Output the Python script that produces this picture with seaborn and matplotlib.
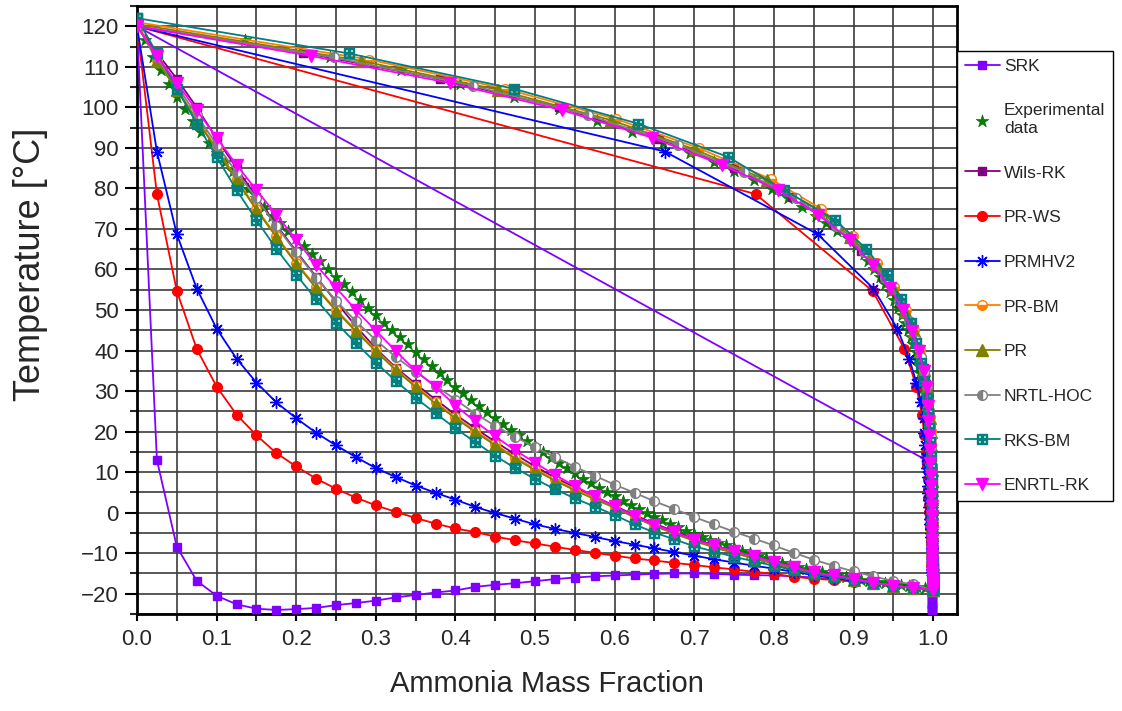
import pandas as pd
import numpy as np
import seaborn as sns
import matplotlib.pyplot as plt
from matplotlib.ticker import MultipleLocator

#* STEP 1: data

# liquid mass fraction grid of the models (bubble side)
mass_frac = [0.0, 0.025, 0.05, 0.075, 0.1, 0.125, 0.15, 0.175, 0.2, 0.225,
             0.25, 0.275, 0.3, 0.325, 0.35, 0.375, 0.4, 0.425, 0.45, 0.475,
             0.5, 0.525, 0.55, 0.575, 0.6, 0.625, 0.65, 0.675, 0.7, 0.725,
             0.75, 0.775, 0.8, 0.825, 0.85, 0.875, 0.9, 0.925, 0.95, 0.975, 1.0]

# SRK
srk_T = [120.0, 13.0, -8.4, -16.8, -20.5, -22.6, -23.7, -24.0, -23.8, -23.5,
         -22.8, -22.3, -21.7, -20.9, -20.3, -19.7, -19.2, -18.3, -17.8, -17.4,
         -16.9, -16.4, -16.0, -15.7, -15.5, -15.3, -15.1, -15.0, -15.0, -15.1,
         -15.3, -15.4, -15.5, -15.7, -16.0, -16.4, -16.9, -17.4, -17.9, -18.5, -19.1]
srk_y = [0.0, 0.991, 0.998, 0.998, 0.999, 0.999, 0.999, 0.999, 0.999, 0.999,
         0.999, 0.999, 0.999, 0.999, 0.999, 0.999, 0.999, 0.999, 0.999, 0.999,
         0.999, 0.999, 0.999, 0.999, 0.999, 0.999, 0.999, 0.999, 0.999, 0.999,
         0.999, 0.999, 0.999, 0.999, 0.999, 0.999, 0.999, 1.0, 1.0, 1.0, 1.0]

# Wils-RK
wils_T = [120.0, 113.5, 107.0, 100.0, 92.3, 85.0, 77.9, 71.0, 64.5, 58.2,
          52.0, 46.0, 40.5, 35.8, 31.8, 27.9, 24.2, 20.8, 17.5, 14.4,
          11.4, 8.7, 6.2, 3.9, 1.7, -0.6, -2.7, -4.6, -6.5, -8.1,
          -9.6, -11.0, -12.3, -13.5, -14.7, -15.6, -16.4, -17.3, -18.0, -18.6, -19.1]
wils_y = [0.0, 0.209, 0.380, 0.530, 0.656, 0.750, 0.823, 0.875, 0.910, 0.937,
          0.957, 0.972, 0.982, 0.988, 0.991, 0.994, 0.995, 0.996, 0.997, 0.997,
          0.997, 0.998, 0.998, 0.998, 0.998, 0.999, 0.999, 0.999, 0.999, 0.999,
          0.999, 0.999, 0.999, 1.0, 1.0, 1.0, 1.0, 1.0, 1.0, 1.0, 1.0]

# PR-WS
prws_T = [120.0, 78.6, 54.7, 40.4, 31.1, 24.2, 19.1, 14.7, 11.4, 8.4,
          5.9, 3.7, 1.8, 0.2, -1.3, -2.7, -3.9, -4.8, -5.9, -6.8,
          -7.6, -8.4, -9.2, -9.9, -10.6, -11.3, -11.8, -12.4, -12.9, -13.5,
          -14.0, -14.6, -15.1, -15.8, -16.3, -16.6, -17.0, -17.4, -17.9, -18.5, -19.1]
prws_y = [0.0, 0.777, 0.924, 0.964, 0.979, 0.986, 0.989, 0.991, 0.992, 0.993,
          0.994, 0.994, 0.995, 0.995, 0.996, 0.996, 0.996, 0.997, 0.997, 0.997,
          0.997, 0.998, 0.998, 0.998, 0.998, 0.998, 0.999, 0.999, 0.999, 0.999,
          0.999, 0.999, 0.999, 0.999, 1.0, 1.0, 1.0, 1.0, 1.0, 1.0, 1.0]

# PRMHV2
prmhv2_T = [120.0, 89.1, 68.7, 55.3, 45.4, 38.0, 32.1, 27.2, 23.3, 19.7,
            16.6, 13.7, 11.0, 8.8, 6.7, 4.9, 3.2, 1.4, -0.1, -1.5,
            -2.9, -4.0, -5.0, -6.0, -7.0, -7.9, -8.8, -9.7, -10.6, -11.5,
            -12.3, -13.1, -13.8, -14.6, -15.4, -16.1, -16.8, -17.4, -17.9, -18.5, -19.1]
prmhv2_y = [0.0, 0.663, 0.855, 0.925, 0.955, 0.970, 0.979, 0.985, 0.988, 0.989,
            0.990, 0.991, 0.992, 0.993, 0.994, 0.994, 0.995, 0.995, 0.996, 0.996,
            0.996, 0.997, 0.997, 0.997, 0.998, 0.998, 0.998, 0.998, 0.999, 0.999,
            0.999, 0.999, 0.999, 0.999, 1.0, 1.0, 1.0, 1.0, 1.0, 1.0, 1.0]

# PR-BM
prbm_T = [121.0, 111.8, 104.6, 97.1, 89.9, 82.3, 75.0, 68.3, 61.7, 55.7,
          50.1, 45.0, 40.1, 35.5, 31.3, 27.2, 23.6, 20.2, 16.9, 13.6,
          10.8, 8.2, 5.8, 3.6, 1.4, -1.0, -3.1, -5.0, -6.8, -8.4,
          -9.9, -11.2, -12.5, -13.7, -14.8, -15.7, -16.5, -17.3, -18.0, -18.6, -19.1]
prbm_y = [0.0, 0.291, 0.462, 0.602, 0.706, 0.796, 0.859, 0.899, 0.929, 0.951,
          0.966, 0.976, 0.984, 0.989, 0.992, 0.994, 0.996, 0.997, 0.997, 0.997,
          0.998, 0.998, 0.998, 0.998, 0.999, 0.999, 0.999, 0.999, 0.999, 0.999,
          0.999, 0.999, 1.0, 1.0, 1.0, 1.0, 1.0, 1.0, 1.0, 1.0, 1.0]

# PR
pr_T = [120.5, 111.5, 104.3, 96.8, 89.6, 82.0, 74.7, 68.0, 61.4, 55.4,
        49.8, 44.7, 39.8, 35.2, 31.0, 26.9, 23.3, 19.9, 16.6, 13.3,
        10.5, 7.9, 5.5, 3.3, 1.2, -1.2, -3.3, -5.2, -7.0, -8.6,
        -10.0, -11.3, -12.6, -13.8, -14.9, -15.7, -16.5, -17.3, -18.0, -18.6, -19.1]
pr_y = [0.0, 0.281, 0.454, 0.596, 0.701, 0.791, 0.856, 0.897, 0.928, 0.950,
        0.965, 0.976, 0.984, 0.989, 0.992, 0.994, 0.996, 0.997, 0.997, 0.997,
        0.998, 0.998, 0.998, 0.998, 0.999, 0.999, 0.999, 0.999, 0.999, 0.999,
        0.999, 0.999, 1.0, 1.0, 1.0, 1.0, 1.0, 1.0, 1.0, 1.0, 1.0]

# NRTL-HOC
nrtl_T = [120.0, 112.3, 105.3, 98.1, 90.8, 84.0, 77.6, 70.7, 64.2, 58.0,
          52.3, 47.2, 42.6, 38.4, 34.8, 31.3, 27.9, 24.4, 21.4, 18.7,
          16.1, 13.7, 11.3, 9.1, 6.9, 4.9, 2.8, 0.9, -1.1, -2.9,
          -4.7, -6.4, -8.1, -9.9, -11.6, -13.1, -14.5, -15.7, -16.9, -17.7, -19.1]
nrtl_y = [0.0, 0.247, 0.422, 0.566, 0.679, 0.763, 0.828, 0.878, 0.913, 0.939,
          0.957, 0.970, 0.978, 0.985, 0.989, 0.992, 0.994, 0.995, 0.996, 0.997,
          0.997, 0.997, 0.998, 0.998, 0.998, 0.998, 0.999, 0.999, 0.999, 0.999,
          0.999, 0.999, 0.999, 1.0, 1.0, 1.0, 1.0, 1.0, 1.0, 1.0, 1.0]

# RKS-BM
rksbm_T = [122.0, 113.3, 104.6, 96.0, 87.8, 79.6, 72.2, 65.1, 58.7, 52.6,
           46.9, 41.8, 37.0, 32.5, 28.3, 24.5, 20.8, 17.4, 14.0, 11.0,
           8.3, 5.8, 3.5, 1.5, -0.6, -2.9, -4.9, -6.6, -8.3, -9.6,
           -10.9, -12.0, -13.1, -14.2, -15.1, -15.9, -16.6, -17.4, -18.0, -18.6, -19.1]
rksbm_y = [0.0, 0.266, 0.473, 0.629, 0.742, 0.813, 0.877, 0.916, 0.942, 0.960,
           0.972, 0.979, 0.985, 0.989, 0.992, 0.994, 0.995, 0.996, 0.997, 0.997,
           0.998, 0.998, 0.998, 0.999, 0.999, 0.999, 0.999, 0.999, 0.999, 0.999,
           0.999, 1.0, 1.0, 1.0, 1.0, 1.0, 1.0, 1.0, 1.0, 1.0, 1.0]

# ENRTL-RK
enrtl_T = [120.0, 112.7, 106.0, 99.3, 92.5, 85.8, 79.6, 73.5, 67.3, 61.1,
           55.5, 50.0, 44.9, 39.9, 35.0, 31.0, 26.4, 22.5, 18.8, 15.4,
           12.3, 9.3, 6.6, 4.0, 1.6, -0.9, -3.0, -4.8, -6.7, -8.1,
           -9.5, -10.8, -12.2, -13.4, -14.7, -15.5, -16.3, -17.3, -18.0, -18.6, -19.1]
enrtl_y = [0.0, 0.218, 0.393, 0.534, 0.647, 0.735, 0.805, 0.856, 0.895, 0.924,
           0.946, 0.962, 0.973, 0.982, 0.988, 0.992, 0.993, 0.994, 0.995, 0.996,
           0.996, 0.997, 0.997, 0.997, 0.998, 0.998, 0.998, 0.998, 0.998, 0.999,
           0.999, 0.999, 0.999, 0.999, 0.999, 0.999, 1.0, 1.0, 1.0, 1.0, 1.0]

# experimental data (liquid and vapour side)
exp_x = [0.0, 0.01, 0.02, 0.03, 0.04, 0.05, 0.06, 0.07, 0.08, 0.09,
         0.10, 0.11, 0.12, 0.13, 0.14, 0.15, 0.16, 0.17, 0.18, 0.19,
         0.20, 0.21, 0.22, 0.23, 0.24, 0.25, 0.26, 0.27, 0.28, 0.29,
         0.30, 0.31, 0.32, 0.33, 0.34, 0.35, 0.36, 0.37, 0.38, 0.39,
         0.40, 0.41, 0.42, 0.43, 0.44, 0.45, 0.46, 0.47, 0.48, 0.49,
         0.50, 0.51, 0.52, 0.53, 0.54, 0.55, 0.56, 0.57, 0.58, 0.59,
         0.60, 0.61, 0.62, 0.63, 0.64, 0.65, 0.66, 0.67, 0.68, 0.69,
         0.70, 0.71, 0.72, 0.73, 0.74, 0.75, 0.76, 0.77, 0.78, 0.79,
         0.80, 0.81, 0.82, 0.83, 0.84, 0.85, 0.86, 0.87, 0.88, 0.89,
         0.90, 0.91, 0.92, 0.93, 0.94, 0.95, 0.96, 0.97, 0.98, 0.99, 1.0]
exp_T = [120.0, 116.5, 112.5, 109.1, 105.7, 102.6, 99.5, 96.6, 94.0, 91.2,
         88.8, 86.6, 84.3, 82.0, 79.8, 77.6, 75.4, 73.3, 71.4, 69.6,
         67.7, 65.8, 63.9, 62.0, 60.1, 58.2, 56.3, 54.4, 52.5, 50.6,
         48.8, 46.9, 45.1, 43.3, 41.5, 39.7, 37.9, 36.2, 34.5, 32.8,
         31.1, 29.5, 27.9, 26.3, 24.8, 23.3, 21.9, 20.5, 19.1, 17.7,
         16.4, 15.0, 13.6, 12.3, 11.0, 9.7, 8.4, 7.2, 6.0, 5.0,
         4.0, 3.0, 1.9, 0.9, -0.1, -1.0, -1.9, -2.8, -3.6, -4.4,
         -5.2, -6.0, -6.7, -7.4, -8.1, -8.8, -9.4, -10.0, -10.6, -11.2,
         -11.8, -12.3, -12.8, -13.3, -13.8, -14.3, -14.7, -15.1, -15.5, -15.9,
         -16.2, -16.5, -16.8, -17.1, -17.4, -17.7, -17.9, -18.2, -18.4, -18.6, -18.8]
exp_y = [0.0, 0.136, 0.243, 0.331, 0.406, 0.473, 0.530, 0.578, 0.622, 0.661,
         0.694, 0.725, 0.750, 0.775, 0.798, 0.818, 0.835, 0.853, 0.866, 0.879,
         0.893, 0.903, 0.913, 0.918, 0.926, 0.933, 0.940, 0.946, 0.951, 0.956,
         0.961, 0.965, 0.969, 0.972, 0.975, 0.978, 0.980, 0.982, 0.984, 0.986,
         0.988, 0.989, 0.990, 0.991, 0.992, 0.993, 0.994, 0.994, 0.995, 0.995,
         0.996, 0.996, 0.996, 0.996, 0.996, 0.997, 0.997, 0.997, 0.997, 0.997,
         0.997, 0.997, 0.998, 0.998, 0.998, 0.998, 0.998, 0.998, 0.998, 0.998,
         0.998, 0.999, 0.999, 0.999, 0.999, 0.999, 0.999, 0.999, 0.999, 0.999,
         0.999, 0.999, 0.999, 0.999, 0.999, 0.999, 0.999, 0.999, 0.999, 0.999,
         1.0, 1.0, 1.0, 1.0, 1.0, 1.0, 1.0, 1.0, 1.0, 1.0, 1.0]

#* STEP 2: series styles (name, T, vapour fraction, line style)
models = [
    ('SRK', srk_T, srk_y, dict(color='#8000ff', marker='s', markersize=6)),
    ('Wils-RK', wils_T, wils_y, dict(color='#800080', marker='s', markersize=6)),
    ('PR-WS', prws_T, prws_y, dict(color='#ff0000', marker='o', markersize=7)),
    ('PRMHV2', prmhv2_T, prmhv2_y, dict(color='#0000ff', marker=(8, 2, 0), markersize=9)),
    ('PR-BM', prbm_T, prbm_y, dict(color='#ff8000', marker='o', markersize=7, fillstyle='bottom',
                                   markerfacecoloralt='white')),
    ('PR', pr_T, pr_y, dict(color='#808000', marker='^', markersize=8)),
    ('NRTL-HOC', nrtl_T, nrtl_y, dict(color='#808080', marker='o', markersize=7, fillstyle='left',
                                      markerfacecoloralt='white')),
    ('RKS-BM', rksbm_T, rksbm_y, dict(color='#008080', marker='$\\boxplus$', markersize=7)),
    ('ENRTL-RK', enrtl_T, enrtl_y, dict(color='#ff00ff', marker='v', markersize=8)),
]

#* STEP 3: figure
sns.set_theme(style='ticks')
plt.rcParams['font.family'] = ['Liberation Sans', 'DejaVu Sans']
plt.rcParams['mathtext.fontset'] = 'dejavusans'

fig = plt.figure(figsize=(11.22, 7.11), dpi=100)
ax = fig.add_axes([137 / 1122, 1 - 614 / 711, 820 / 1122, 608 / 711])

for i, (name, T, y, style) in enumerate(models):
    # bubble curve from 0 to 1, then dew curve back from 1 to 0
    df = pd.DataFrame({'x': mass_frac + y[::-1], 'T': T + T[::-1]})
    # seaborn puts white marker edges by default, use the series colour instead
    sns.lineplot(data=df, x='x', y='T', sort=False, estimator=None, errorbar=None,
                 linewidth=1.3, label=name, ax=ax, zorder=3 + i,
                 markeredgecolor=style['color'], markeredgewidth=1.0, **style)
    if i == 0:
        # experimental points drawn right after SRK
        exp_df = pd.DataFrame({'x': exp_x + exp_y, 'T': exp_T + exp_T})
        sns.scatterplot(data=exp_df, x='x', y='T', marker='*', s=90, color='#008000',
                        edgecolor='#006400', linewidth=0.4, label='Experimental\ndata',
                        ax=ax, zorder=3)

h, l = ax.get_legend_handles_labels()
handles = dict(zip(l, h))
if ax.get_legend() is not None:
    ax.get_legend().remove()

order = ['SRK', 'Experimental\ndata', 'Wils-RK', 'PR-WS', 'PRMHV2', 'PR-BM', 'PR',
         'NRTL-HOC', 'RKS-BM', 'ENRTL-RK']
leg = fig.legend([handles[k] for k in order], order, loc='upper left',
                 bbox_to_anchor=(957 / 1122, 1 - 51 / 711), fontsize=12.5, frameon=True,
                 fancybox=False, edgecolor='black', framealpha=1, handlelength=2.0,
                 handletextpad=0.25, labelspacing=1.7, borderpad=0.45, borderaxespad=0)
leg.get_frame().set_linewidth(1.0)

# axes, ticks and grid
ax.set_xlim(0, 1.03)
ax.set_ylim(-25, 125)
ax.xaxis.set_major_locator(MultipleLocator(0.1))
ax.xaxis.set_minor_locator(MultipleLocator(0.05))
ax.yaxis.set_major_locator(MultipleLocator(10))
ax.yaxis.set_minor_locator(MultipleLocator(5))
ax.xaxis.set_major_formatter(plt.FormatStrFormatter('%.1f'))
ax.grid(which='both', color='#3c3c3c', linewidth=1.2)
ax.set_axisbelow(True)
ax.tick_params(axis='both', which='major', labelsize=16, width=1.5, color='black', direction='out')
ax.tick_params(axis='y', which='major', length=9, pad=4)
ax.tick_params(axis='y', which='minor', length=5, width=1.5)
ax.tick_params(axis='x', which='both', length=5, width=1.5, pad=6)
for s in ax.spines.values():
    s.set_linewidth(2)
    s.set_color('black')

ax.set_xlabel('Ammonia Mass Fraction', fontsize=21, labelpad=14)
ax.set_ylabel('Temperature [°C]', fontsize=26)
ax.yaxis.set_label_coords(-0.108, 0.575)

fig.savefig('out.png', dpi=100)
